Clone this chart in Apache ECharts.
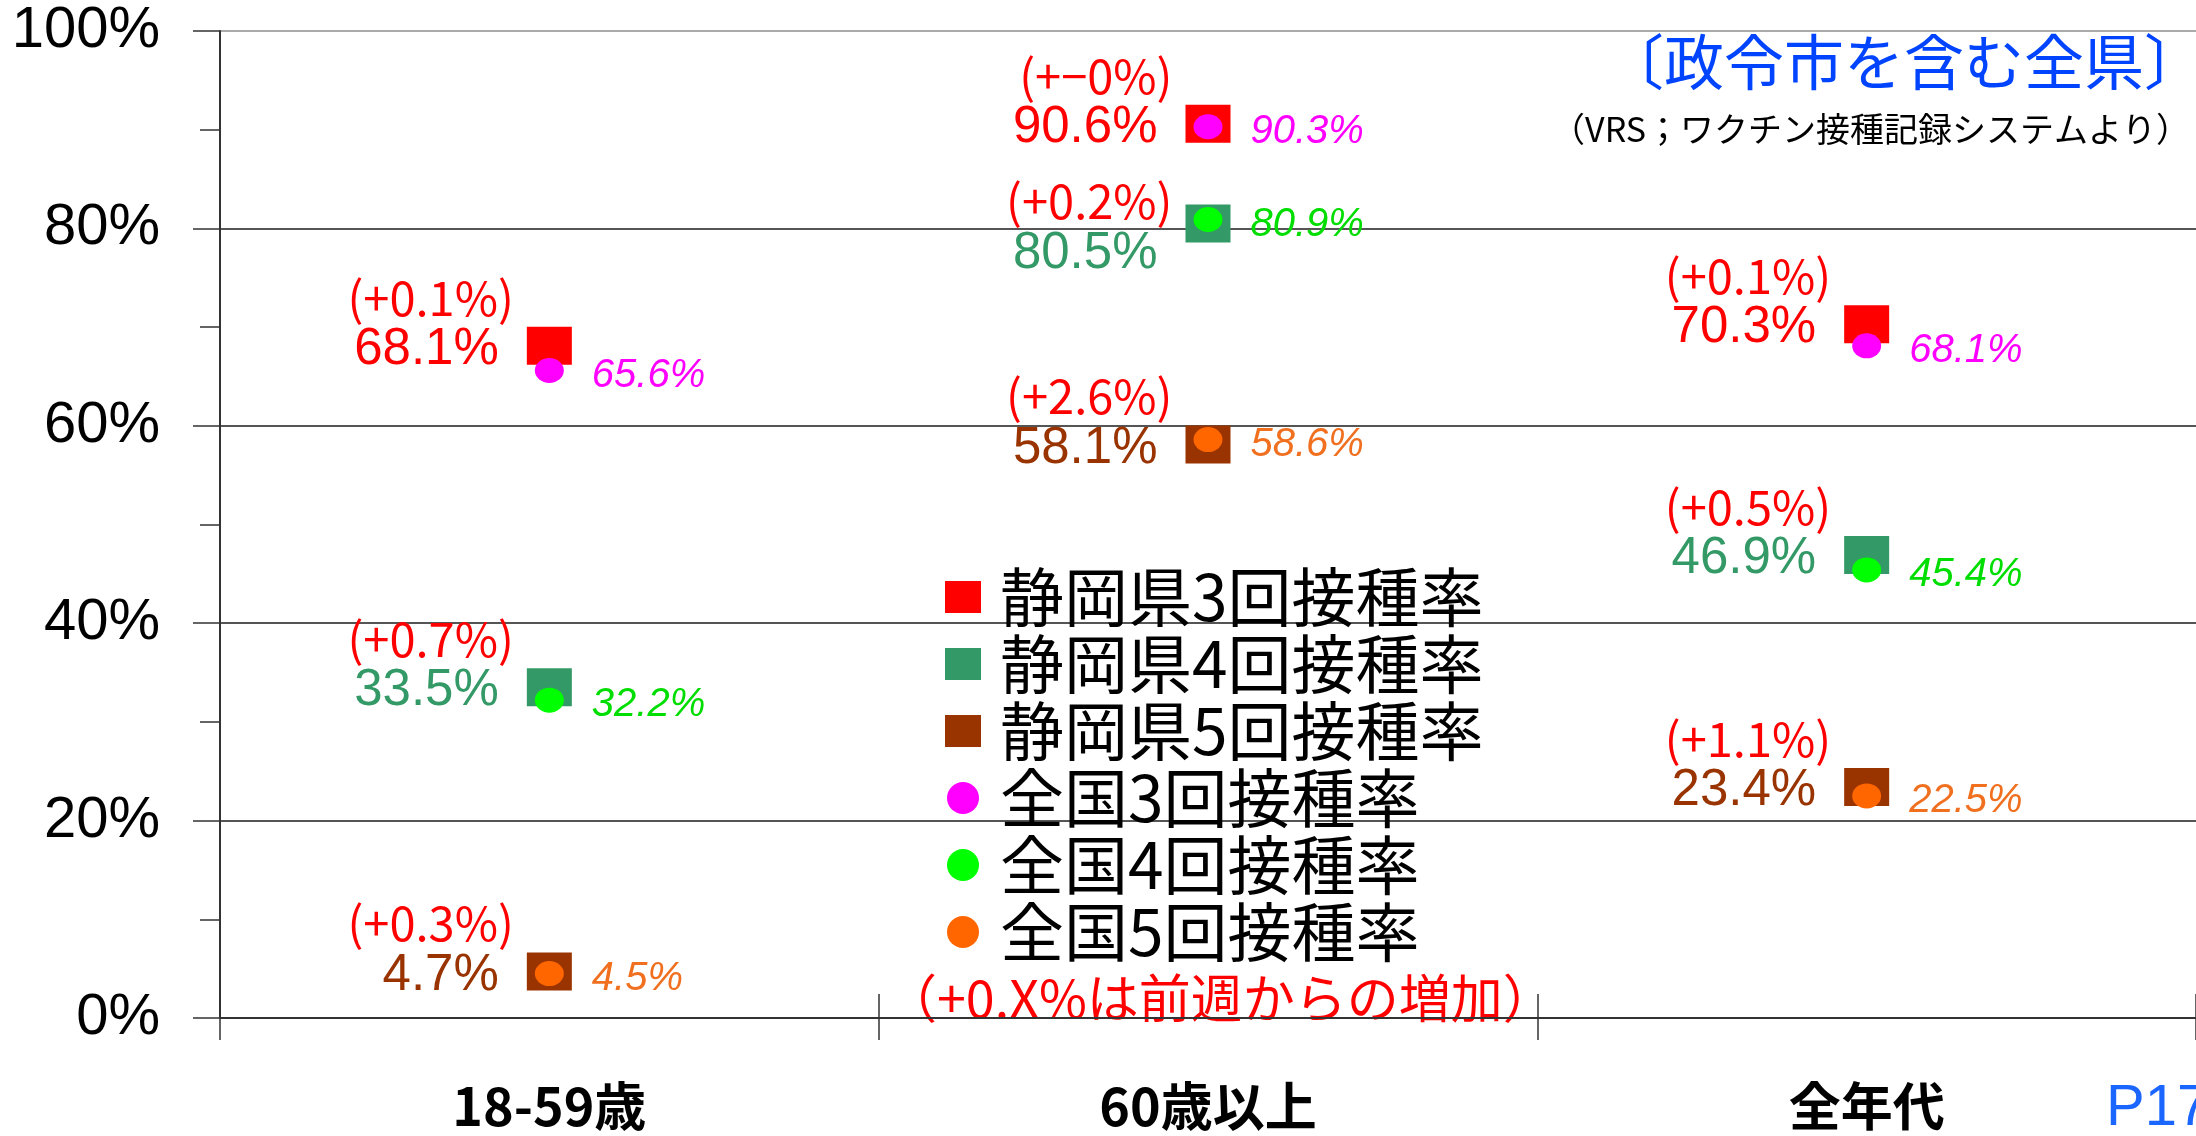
<!DOCTYPE html>
<html>
<head>
<meta charset="utf-8">
<script src="https://cdn.jsdelivr.net/npm/echarts@6/dist/echarts.min.js"></script>
<style>
  html, body { margin: 0; padding: 0; background: #fff; }
  #chart { width: 2196px; height: 1136px; }
</style>
</head>
<body>
<div id="chart"></div>
<script>
// 区分
const categories = ["18-59歳", "60歳以上", "全年代"];
// 静岡県 接種率 (%)
const pref3 = [68.1, 90.6, 70.3];
const pref4 = [33.5, 80.5, 46.9];
const pref5 = [4.7, 58.1, 23.4];
// 全国 接種率 (%)
const nat3 = [65.6, 90.3, 68.1];
const nat4 = [32.2, 80.9, 45.4];
const nat5 = [4.5, 58.6, 22.5];
// 前週からの増加 (ポイント)
const diff3 = [0.1, 0, 0.1];
const diff4 = [0.7, 0.2, 0.5];
const diff5 = [0.3, 2.6, 1.1];

const chart = echarts.init(document.getElementById("chart"));

function diffText(v) {
  return v === 0 ? "(+\u22120%)" : "(+" + v.toFixed(1) + "%)";
}

// 静岡県（四角）
function prefSeries(name, values, diffs, color) {
  return {
    name: name,
    type: "scatter",
    symbol: "rect",
    symbolSize: [45, 38],
    z: 2,
    itemStyle: { color: color, opacity: 1 },
    label: {
      show: true,
      position: "left",
      distance: 13,
      offset: [0, -22],
      align: "right",
      formatter: function (p) {
        return "{c|" + diffText(diffs[p.dataIndex]) + "}\n{v|" + p.value.toFixed(1) + "%}";
      },
      rich: {
        c: { color: "#ff0000", fontSize: 47, fontFamily: "Noto Sans CJK JP", lineHeight: 52 },
        v: { color: color, fontSize: 51, fontFamily: "Liberation Sans", lineHeight: 52, padding: [0, 15, 0, 0] }
      }
    },
    emphasis: { disabled: true },
    data: values.map(function (v, i) {
      const item = { value: v };
      // 60歳以上の4回は上のラベルと重ならないよう少し下げる
      if (name === "静岡県4回接種率" && i === 1) item.label = { offset: [0, 4] };
      return item;
    })
  };
}

// 全国（丸）
function natSeries(name, values, color, labelColor) {
  return {
    name: name,
    type: "scatter",
    symbol: "circle",
    symbolSize: [29, 25],
    z: 3,
    itemStyle: { color: color, opacity: 1 },
    label: {
      show: true,
      position: "right",
      distance: 28,
      offset: [0, 5],
      color: labelColor,
      fontSize: 40,
      fontStyle: "italic",
      fontFamily: "Liberation Sans",
      formatter: function (p) { return p.value.toFixed(1) + "%"; }
    },
    emphasis: { disabled: true },
    data: values
  };
}

chart.setOption({
  backgroundColor: "#fff",
  animation: false,
  grid: { left: 220, right: -4, top: 31, bottom: 118 },
  legend: {
    orient: "vertical",
    left: 940,
    top: 560,
    itemWidth: 36,
    itemHeight: 32,
    itemGap: 3,
    selectedMode: false,
    textStyle: {
      fontSize: 64,
      fontFamily: "Noto Sans CJK JP",
      color: "#000",
      lineHeight: 62,
      padding: [0, 0, 0, 14]
    },
    data: [
      { name: "静岡県3回接種率", icon: "rect" },
      { name: "静岡県4回接種率", icon: "rect" },
      { name: "静岡県5回接種率", icon: "rect" },
      { name: "全国3回接種率", icon: "circle" },
      { name: "全国4回接種率", icon: "circle" },
      { name: "全国5回接種率", icon: "circle" }
    ]
  },
  xAxis: [
    {
      type: "category",
      data: categories,
      position: "bottom",
      axisLine: { show: true, lineStyle: { color: "#333", width: 2 } },
      axisTick: { show: true, length: 22, lineStyle: { color: "#333", width: 1.5 } },
      axisLabel: {
        margin: 62,
        fontSize: 52,
        fontWeight: "bold",
        fontFamily: "Noto Sans CJK JP",
        color: "#000"
      }
    },
    {
      type: "category",
      data: categories,
      position: "bottom",
      axisLine: { show: false },
      axisTick: { show: true, inside: true, length: 24, lineStyle: { color: "#333", width: 1.5 } },
      axisLabel: { show: false }
    }
  ],
  yAxis: {
    type: "value",
    min: 0,
    max: 100,
    interval: 20,
    axisLine: { show: true, lineStyle: { color: "#333", width: 2 } },
    axisTick: { show: true, length: 27, lineStyle: { color: "#333", width: 1.5 } },
    minorTick: { show: true, splitNumber: 2, length: 20, lineStyle: { color: "#333", width: 1.5 } },
    splitLine: {
      show: true,
      lineStyle: { color: ["#333", "#555", "#555", "#555", "#555", "#aaa"], width: 2 }
    },
    axisLabel: {
      margin: 60,
      fontSize: 58,
      fontFamily: "Liberation Sans",
      color: "#000",
      formatter: "{value}%"
    }
  },
  series: [
    prefSeries("静岡県3回接種率", pref3, diff3, "#ff0000"),
    prefSeries("静岡県4回接種率", pref4, diff4, "#339966"),
    prefSeries("静岡県5回接種率", pref5, diff5, "#993300"),
    natSeries("全国3回接種率", nat3, "#ff00ff", "#ff00ff"),
    natSeries("全国4回接種率", nat4, "#00ff00", "#00dd00"),
    natSeries("全国5回接種率", nat5, "#ff6600", "#f07020")
  ],
  graphic: [
    {
      type: "text",
      right: -8,
      top: 32,
      style: {
        text: "〔政令市を含む全県〕",
        fontSize: 60,
        fontFamily: "Noto Sans CJK JP",
        fill: "#0044ff"
      }
    },
    {
      type: "text",
      right: 6,
      top: 112,
      style: {
        text: "（VRS；ワクチン接種記録システムより）",
        fontSize: 34,
        fontFamily: "Noto Sans CJK JP",
        fill: "#000"
      }
    },
    {
      type: "text",
      left: 885,
      top: 972,
      style: {
        text: "（+0.X%は前週からの増加）",
        fontSize: 52,
        fontFamily: "Noto Sans CJK JP",
        fill: "#ff0000"
      }
    },
    {
      type: "text",
      left: 2106,
      top: 1080,
      style: {
        text: "P17",
        fontSize: 58,
        fontFamily: "Liberation Sans",
        fill: "#1a66ff"
      }
    }
  ]
});
</script>
</body>
</html>
